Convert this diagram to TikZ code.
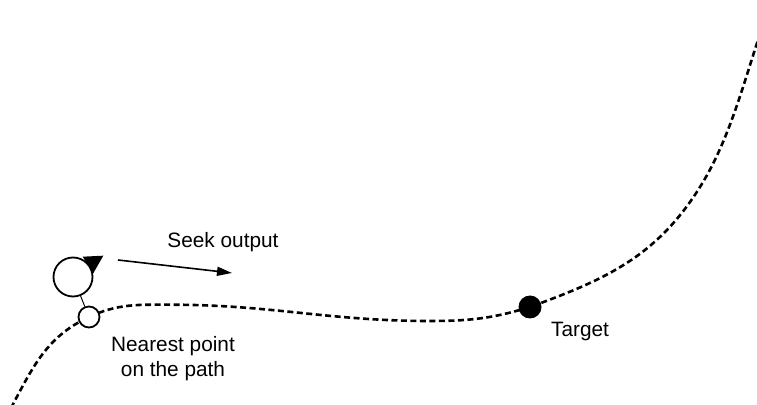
\documentclass[tikz,border=0pt]{standalone}
\usepackage{fontspec}
\setmainfont{Liberation Sans}
\usepackage{tikz}
\usetikzlibrary{calc}
\usetikzlibrary{arrows.meta}
\usetikzlibrary{backgrounds}

\begin{document}
\begin{tikzpicture}[x=1pt,y=1pt,
    pathline/.style={line width=2.6pt,dash pattern=on 6pt off 3.5pt},
    ring/.style={circle,draw,line width=1.8pt,fill=white,inner sep=0pt},
    lbl/.style={inner sep=0pt,font=\fontsize{20.8}{24.7}\selectfont}]
      \useasboundingbox (0,0) rectangle (757,404);

      \node[ring,minimum size=39pt] (veh) at (73,127) {};
      \node[ring,minimum size=21pt] (near) at (89,87) {};
      \node[circle,fill=black,inner sep=0pt,minimum size=23pt] (target) at (530,97) {};
      \fill ($(veh.center)+(9.7,20.3)$) -- ($(veh.center)+(30.3,21.3)$) -- ($(veh.center)+(20.3,3.7)$) -- cycle;
      \draw[line width=1pt] (veh) -- (near);

      \coordinate (seekfrom) at (118,144);
      \coordinate (seekto) at (232,131);
      \draw[line width=1.6pt,-{Triangle[length=15pt,width=9pt]}] (seekfrom) -- (seekto);

      \node[lbl,anchor=base] (seeklbl) at (223,156) {Seek output};
      \node[lbl,anchor=base,align=center] (nearlbl) at (173,27.5) {Nearest point\\on the path};
      \node[lbl,anchor=base] (targetlbl) at (580,67) {Target};

      % the path to follow
      \coordinate (pstart) at (11,-4);
      \coordinate (crest) at (170,99.3);
      \coordinate (dip) at (430,83);
      \coordinate (bend) at (700,217);
      \coordinate (pend) at (758,364);
      \begin{scope}[on background layer]
        \draw[pathline] (pstart) to[out=62,in=205] (near.center) to[out=25,in=180] (crest)
          to[out=0,in=180] (dip) to[out=0,in=197] (target.center)
          to[out=20,in=238] (bend) to[out=58,in=252,looseness=0.85] (pend);
      \end{scope}
    \end{tikzpicture}
\end{document}
